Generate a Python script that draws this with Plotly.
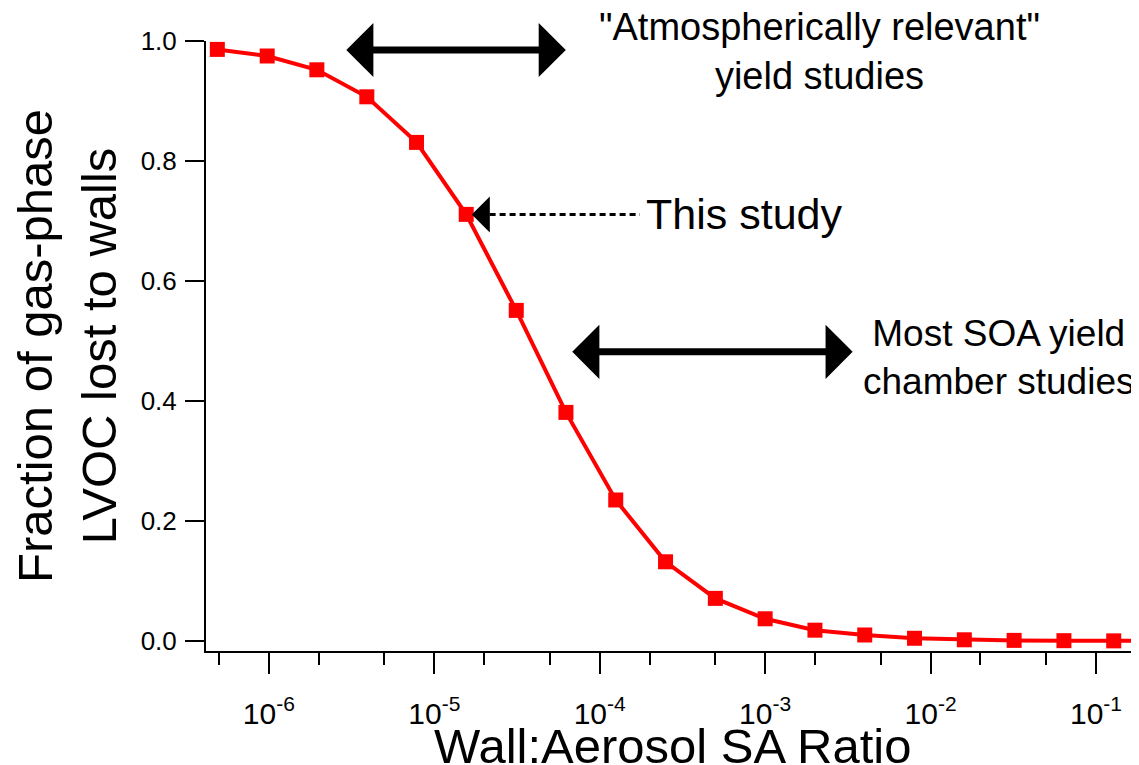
import plotly.graph_objects as go

# ---- data ----
wall_aerosol_ratio = [4.88e-7, 9.77e-7, 1.95e-6, 3.91e-6, 7.81e-6, 1.56e-5, 3.13e-5,
                      6.25e-5, 1.25e-4, 2.50e-4, 5.00e-4, 1.00e-3, 2.00e-3, 4.00e-3,
                      8.00e-3, 1.60e-2, 3.20e-2, 6.40e-2, 1.28e-1, 2.56e-1]
fraction_lost = [0.986, 0.975, 0.952, 0.907, 0.831, 0.711, 0.551,
                 0.381, 0.235, 0.132, 0.071, 0.037, 0.018, 0.010,
                 0.0045, 0.002, 0.001, 0.0005, 0.0002, 0.0001]

x_tick_vals = [1e-6, 1e-5, 1e-4, 1e-3, 1e-2, 1e-1]
x_tick_text = ["10<sup>-6</sup>", "10<sup>-5</sup>", "10<sup>-4</sup>",
               "10<sup>-3</sup>", "10<sup>-2</sup>", "10<sup>-1</sup>"]
y_tick_vals = [0.0, 0.2, 0.4, 0.6, 0.8, 1.0]
y_tick_text = ["0.0", "0.2", "0.4", "0.6", "0.8", "1.0"]

FONT = "Liberation Sans, Arial, sans-serif"
RED = "#ff0000"

fig = go.Figure()

# "This study" dotted leader line
fig.add_trace(go.Scatter(
    x=[2.16e-5, 1.75e-4], y=[0.711, 0.711], mode="lines",
    line=dict(color="black", width=3, dash="6px,4px"),
    hoverinfo="skip", showlegend=False, cliponaxis=False,
))

fig.add_trace(go.Scatter(
    x=wall_aerosol_ratio, y=fraction_lost, mode="lines+markers",
    line=dict(color=RED, width=4),
    marker=dict(symbol="square", size=15, color=RED),
    showlegend=False,
))

ARROW = dict(xref="x", yref="y", axref="x", ayref="y", text="", showarrow=True,
             arrowside="end+start", arrowhead=1, startarrowhead=1,
             arrowwidth=7, arrowsize=1.29, startarrowsize=1.29, arrowcolor="black")

annotations = [
    # double arrow: atmospherically relevant
    dict(x=-4.205, y=0.985, ax=-5.541, ay=0.985, **ARROW),
    dict(x=-2.671, y=0.983, xref="x", yref="y", showarrow=False,
         text="\"Atmospherically relevant\"<br>yield studies",
         font=dict(family=FONT, size=38, color="black"), align="center"),
    # double arrow: most SOA yield chamber studies
    dict(x=-2.471, y=0.482, ax=-4.175, ay=0.482, **ARROW),
    dict(x=-1.589, y=0.473, xref="x", yref="y", showarrow=False,
         text="Most SOA yield<br>chamber studies",
         font=dict(family=FONT, size=37, color="black"), align="center"),
    # "This study" arrow head
    dict(x=-4.773, y=0.711, ax=-4.665, ay=0.711, xref="x", yref="y", axref="x", ayref="y",
         text="", showarrow=True, arrowhead=1, arrowwidth=2, arrowsize=3, arrowcolor="black"),
    dict(x=-3.73, y=0.711, xref="x", yref="y", showarrow=False, xanchor="left",
         text="This study", font=dict(family=FONT, size=43, color="black")),
    # x-axis title
    dict(x=0.5, y=-0.155, xref="paper", yref="paper", showarrow=False,
         xanchor="center", yanchor="middle",
         text="Wall:Aerosol SA Ratio", font=dict(family=FONT, size=49, color="black")),
]

# the page body adds an 8px offset, so the figure is 8px smaller and shifted up/left
fig.update_layout(
    width=1131, height=757,
    margin=dict(l=198, r=0, t=33, b=114, autoexpand=False),
    paper_bgcolor="white", plot_bgcolor="white",
    font=dict(family=FONT, color="black", size=26),
    annotations=annotations,
    xaxis=dict(
        type="log", range=[-6.38, -0.74],
        showline=True, linecolor="black", linewidth=2, mirror=False,
        showgrid=False, zeroline=False,
        ticks="outside", ticklen=21, tickwidth=2, tickcolor="black",
        tickvals=x_tick_vals, ticktext=x_tick_text,
        tickfont=dict(family=FONT, size=30, color="black"),
        ticklabelstandoff=14,
        minor=dict(ticks="outside", ticklen=12, tickwidth=2, tickcolor="black", showgrid=False),
    ),
    yaxis=dict(
        range=[-0.0167, 1.0],
        showline=True, linecolor="black", linewidth=2,
        showgrid=False, zeroline=False,
        ticks="outside", ticklen=19, tickwidth=2, tickcolor="black",
        tickvals=y_tick_vals, ticktext=y_tick_text,
        tickfont=dict(family=FONT, size=26, color="black"),
        ticklabelstandoff=3,
        title=dict(text="Fraction of gas-phase<br>LVOC lost to walls",
                   font=dict(family=FONT, size=49, color="black"), standoff=20),
    ),
)

fig.write_html("out.html")
